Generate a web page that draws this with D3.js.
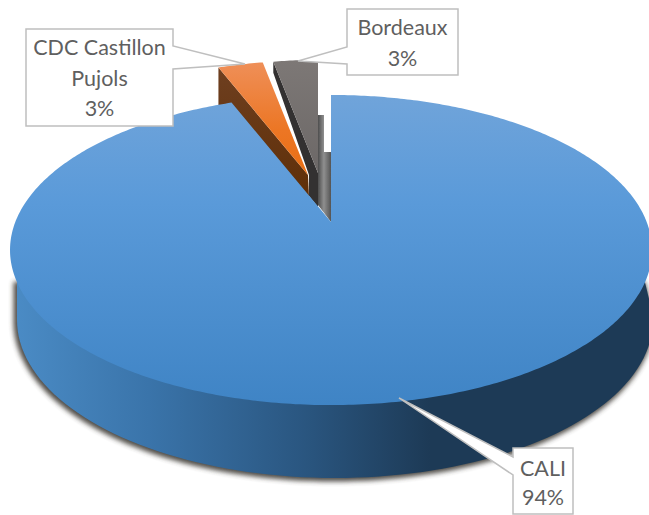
<!DOCTYPE html>
<html><head><meta charset="utf-8">
<script src="https://cdn.jsdelivr.net/npm/d3@7"></script>
<style>html,body{margin:0;padding:0;background:#fff;overflow:hidden}svg{display:block}text{font-family:Lato,"Open Sans",sans-serif;font-size:21.5px;fill:#5f5f5f;text-anchor:middle}</style>
</head><body><svg id="c" width="649" height="515"></svg>
<script>
const categories = ["CALI", "CDC Castillon", "Bordeaux"];
const labelLines = [["CALI"], ["CDC Castillon", "Pujols"], ["Bordeaux"]];
const values = [94, 3, 3];

const svg = d3.select("#c");
const defs = svg.append("defs");
function grad(id, x2, y2, stops) {
  const g = defs.append("linearGradient").attr("id", id).attr("x1", 0).attr("y1", 0).attr("x2", x2).attr("y2", y2);
  stops.forEach(s => g.append("stop").attr("offset", s[0]).attr("stop-color", s[1]));
}
grad("blueTop", 0, 1, [[0, "#70a4da"], [.35, "#5a9ad9"], [1, "#3f84c5"]]);
grad("orangeTop", 0, 1, [[0, "#ef8f58"], [.6, "#ec7624"], [1, "#e96f14"]]);
grad("grayTop", 0, 1, [[0, "#7d7876"], [1, "#6c6867"]]);
grad("brown", 0, 1, [[0, "#6e3f20"], [1, "#5f2f08"]]);
grad("inner", 1, 0, [[0, "#4d4d4d"], [.45, "#8f8f8f"], [1, "#555"]]);
defs.append("linearGradient").attr("id", "wall").attr("gradientUnits", "userSpaceOnUse")
  .attr("x1", 10).attr("x2", 430).attr("y1", 0).attr("y2", 0)
  .selectAll("stop").data([[0, "#4b8cc6"], [.33, "#3a74aa"], [.7, "#2a5680"], [1, "#1d3a56"]]).join("stop")
  .attr("offset", d => d[0]).attr("stop-color", d => d[1]);
defs.append("filter").attr("id", "blur").attr("x", "-10%").attr("y", "-10%").attr("width", "120%").attr("height", "120%")
  .append("feGaussianBlur").attr("stdDeviation", 2.4);
defs.append("filter").attr("id", "soft").append("feGaussianBlur").attr("stdDeviation", .5);

// pie layout in data order, clockwise from 12 o'clock
const pie = d3.pie().sort(null).value(d => d)(values);

// perspective projection of the unit disc to screen offsets from the pie centre
const persp = .1807, A = 315.7, B = 150;
const project = t => {
  const u = Math.sin(t), v = -Math.cos(t), w = 1 - persp * v;
  return [A * u / w, B * v / w];
};
const sX = d3.scaleLinear().domain([-1, 1]).range([335 - 318, 335 + 318]);
const sY = d3.scaleLinear().domain([-1, 1]).range([320 - 158, 320 + 158]);

const layout = [
  { apex: [331, 222], k: 1 },
  { apex: [308, 175], k: .9 },
  { apex: [318, 173], k: .89 }
];
const rimPoint = (i, t) => {
  const p = project(t), l = layout[i];
  return [l.apex[0] + l.k * p[0], l.apex[1] + l.k * p[1]];
};
const line = d3.line();
const sliceTop = i => {
  const a = pie[i];
  const n = Math.max(2, Math.ceil((a.endAngle - a.startAngle) * 80));
  const pts = d3.range(n + 1).map(j => rimPoint(i, a.startAngle + (a.endAngle - a.startAngle) * j / n));
  return line([layout[i].apex, ...pts]) + "Z";
};

// outer wall of the big slice
const ang = d3.range(0, 361, 2).map(d => d * Math.PI / 180);
const hull = d3.polygonHull([
  ...ang.map(t => rimPoint(0, t)).filter(p => p[1] >= 278),
  ...ang.filter(t => Math.cos(t) <= 0 || Math.abs(Math.sin(t)) > .999).map(t => [sX(Math.sin(t)), sY(-Math.cos(t))])
]);
svg.append("path").attr("d", line(hull) + "Z").attr("fill", "#3e3a36").attr("stroke", "#3e3a36").attr("stroke-width", 4)
  .attr("transform", "translate(-1.5,1.5)").attr("filter", "url(#blur)").attr("opacity", .9);
svg.append("path").attr("d", line(hull) + "Z").attr("fill", "url(#wall)");

// cut face of the big slice seen through the gap
const c0 = layout[0].apex;
svg.append("path").attr("d", line([[c0[0] - 13, 115], [c0[0] - 7, 115], [c0[0] - 7, 152], [c0[0], 152], c0, [c0[0] - 13, 205]]) + "Z")
  .attr("fill", "url(#inner)").attr("filter", "url(#soft)");

// exploded slices: walls then top faces
const bRim = rimPoint(2, pie[2].startAngle), oRim = rimPoint(1, pie[1].startAngle);
const oA = layout[1].apex, gA = layout[2].apex;
svg.append("path").attr("d", line([bRim, [bRim[0], bRim[1] + 11], [oA[0] + 1, oA[1]], [oA[0] + 1, oA[1] + 21], [gA[0], gA[1] + 34], gA]) + "Z").attr("fill", "#333131");
svg.append("path").attr("d", line([oRim, [oRim[0], oRim[1] + 38], [oA[0] + 1, oA[1] + 22], oA]) + "Z").attr("fill", "url(#brown)");

const fills = ["url(#blueTop)", "url(#orangeTop)", "url(#grayTop)"];
[1, 2, 0].forEach(i => svg.append("path").attr("d", sliceTop(i)).attr("fill", fills[i]));

// data-label callouts
const boxes = [
  { x: 513, y: 448, w: 60, h: 66, tip: [399, 398], n: [9, 27], base: [476, 505] },
  { x: 26, y: 29, w: 147, h: 97, tip: [245, 64], n: [17, 40], base: [55, 86, 116], right: true },
  { x: 347, y: 9, w: 111, h: 66, tip: [298, 61], n: [38, 55], base: [35, 66] }
];
boxes.forEach((b, i) => {
  const L = b.x, R = b.x + b.w, T = b.y, Bt = b.y + b.h;
  const pts = b.right
    ? [[L, T], [R, T], [R, T + b.n[0]], b.tip, [R, T + b.n[1]], [R, Bt], [L, Bt]]
    : [[L, T], [R, T], [R, Bt], [L, Bt], [L, T + b.n[1]], b.tip, [L, T + b.n[0]]];
  svg.append("path").attr("d", line(pts) + "Z").attr("fill", "#fff").attr("stroke", "#bfbfbf").attr("stroke-width", 1.5);
  const rows = [...labelLines[i], values[i] + "%"];
  rows.forEach((t, j) => svg.append("text").attr("x", (L + R) / 2).attr("y", b.base[j]).text(t));
});
</script></body></html>
